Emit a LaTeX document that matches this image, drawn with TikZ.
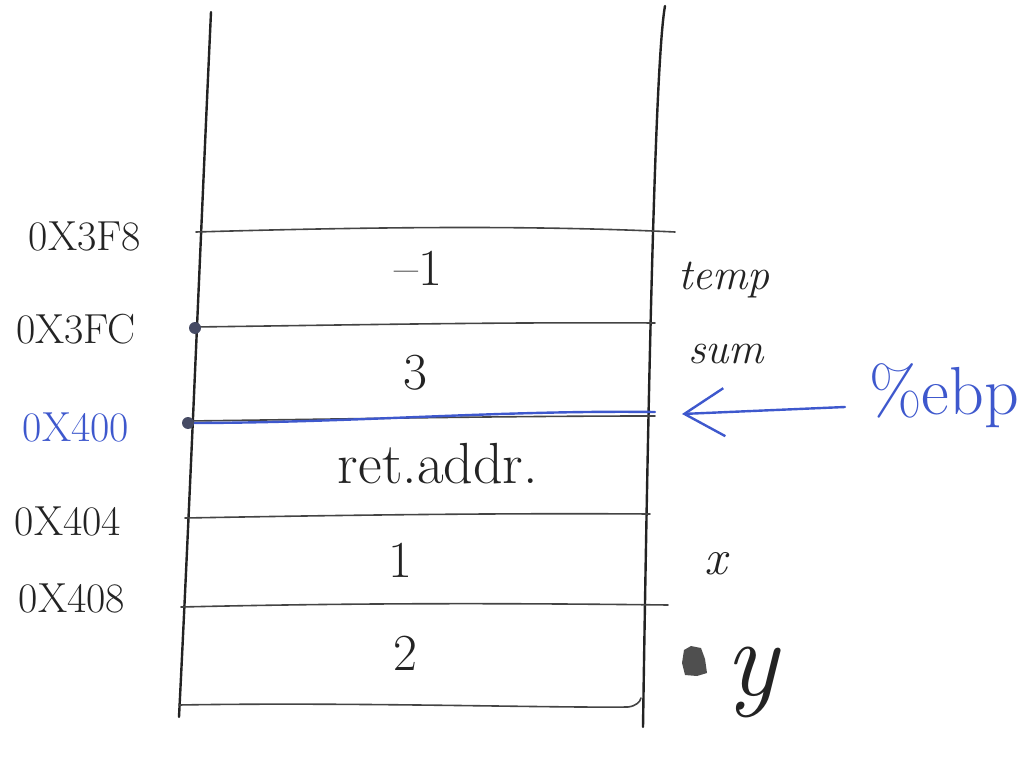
\documentclass[tikz,border=0pt]{standalone}
\usetikzlibrary{arrows.meta}
\definecolor{ink}{RGB}{35,35,35}
\definecolor{pen}{RGB}{62,88,205}
\definecolor{dotc}{RGB}{70,75,100}
\begin{document}
\begin{tikzpicture}[x=1pt,y=-1pt,
  wall/.style={ink,line width=2.4pt,line cap=round},
  rule/.style={ink!85,line width=1.6pt,line cap=round},
  blueline/.style={pen,line width=2.4pt,line cap=round},
  addr/.style={font=\fontsize{42}{46}\selectfont,ink,inner sep=0pt},
  cell/.style={font=\fontsize{52}{56}\selectfont,ink,inner sep=0pt},
  var/.style={font=\fontsize{44}{48}\selectfont\itshape,ink,inner sep=0pt},
  pin/.style={circle,fill=dotc,inner sep=0pt,minimum size=12pt}]
\useasboundingbox (0,0) rectangle (1020,759);

% stack walls
\draw[wall] (211,12) .. controls (200,250) and (190,500) .. (179,717);
\draw[wall] (665,6) .. controls (655,60) and (648,400) .. (643,727);

% slot boundaries
\draw[rule] (196,232) .. controls (400,226) and (550,226) .. (675,232);
\draw[rule] (194,327) .. controls (350,325) and (500,322) .. (655,323);
\draw[rule] (188,421) .. controls (350,419) and (500,416) .. (655,416);
\draw[rule] (185,518) .. controls (350,515) and (500,513) .. (650,514);
\draw[rule] (181,607) .. controls (350,603) and (500,603) .. (668,605);
\draw[rule] (179,705) .. controls (350,702) and (550,708) .. (628,707) .. controls (636,706) and (640,702) .. (641,698);

% frame pointer line
\draw[blueline] (188,423) .. controls (350,423) and (500,410) .. (655,412);

% marked addresses
\node[pin] (p1) at (195,328) {};
\node[pin] (p2) at (188,423) {};

% addresses
\node[addr] (a1) at (85,236) {0X3F8};
\node[addr] (a2) at (76,329) {0X3FC};
\node[addr,pen] (a3) at (76,427) {0X400};
\node[addr] (a4) at (68,521) {0X404};
\node[addr] (a5) at (72,598) {0X408};

% slot contents
\node[cell] (c1) at (418,268) {--1};
\node[cell] (c2) at (415,373) {3};
\node[cell,font=\fontsize{58}{62}\selectfont] (c3) at (438,464) {ret.addr.};
\node[cell] (c4) at (400,560) {1};
\node[cell] (c5) at (405,653) {2};

% variable names
\node[var] (v1) at (724,280) {temp};
\node[var] (v2) at (726,354) {sum};
\node[var,font=\fontsize{50}{54}\selectfont\itshape] (v3) at (716,564) {x};
\node[var,font=\fontsize{110}{114}\selectfont\itshape] (v4) at (752,682) {y};
\fill[ink!80] (684,650) -- (691,646) -- (701,648) -- (705,659) -- (707,673) -- (697,676) -- (685,675) -- (682,663) -- cycle;

% %ebp register arrow
\node[font=\fontsize{68}{72}\selectfont,pen,inner sep=0pt] (ebp) at (944,396) {\%ebp};
\coordinate (tail) at (845,407);
\coordinate (tip) at (682,414);
\draw[blueline,-{Straight Barb[length=40pt,width=48pt,line width=2.4pt]}] (tail) -- (tip);
\end{tikzpicture}
\end{document}
